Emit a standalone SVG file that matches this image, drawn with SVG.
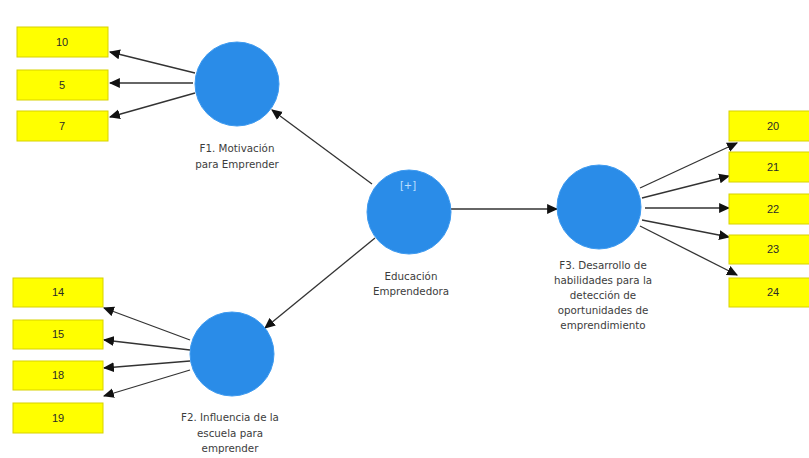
<svg xmlns="http://www.w3.org/2000/svg" width="809" height="458" viewBox="0 0 809 458">
<style>
.box{fill:#ffff00;stroke:#d8d200;stroke-width:1}
.bt{font-family:"Liberation Sans",Arial,sans-serif;font-size:11px;fill:#2a2a2a;text-anchor:middle}
.lv{fill:#2a8ce8;stroke:#3d9af0;stroke-width:1}
.lb{font-family:"DejaVu Sans","Liberation Sans",sans-serif;font-size:10.3px;fill:#3c3c3c;text-anchor:middle}
.c{stroke:#333;stroke-width:1.3;fill:none;marker-end:url(#ah)}
</style>
<defs>
<marker id="ah" markerUnits="userSpaceOnUse" markerWidth="11" markerHeight="11" viewBox="0 0 10 10" refX="9" refY="5" orient="auto">
<path d="M0,0.5 L10,5 L0,9.5 Z" fill="#111"/>
</marker>
</defs>
<rect width="809" height="458" fill="#fff"/>
<g id="connectors">
<line class="c" x1="195" y1="73" x2="110" y2="52"/>
<line class="c" x1="193" y1="83" x2="110" y2="83"/>
<line class="c" x1="195" y1="93" x2="110" y2="117"/>
<line class="c" x1="190" y1="340" x2="104" y2="308"/>
<line class="c" x1="190" y1="350" x2="104" y2="340"/>
<line class="c" x1="190" y1="361" x2="104" y2="368"/>
<line class="c" x1="190" y1="370" x2="104" y2="396"/>
<line class="c" x1="372" y1="184" x2="272" y2="110"/>
<line class="c" x1="375" y1="238" x2="265" y2="328"/>
<line class="c" x1="451" y1="209" x2="557" y2="209"/>
<line class="c" x1="640" y1="188" x2="737" y2="143"/>
<line class="c" x1="642" y1="198" x2="729" y2="176"/>
<line class="c" x1="645" y1="208" x2="729" y2="208"/>
<line class="c" x1="642" y1="220" x2="729" y2="237"/>
<line class="c" x1="640" y1="226" x2="737" y2="275"/>
</g>
<g id="n10"><rect class="box" x="17" y="27" width="91" height="30"/><text class="bt" x="62" y="46">10</text></g>
<g id="n5"><rect class="box" x="17" y="70" width="91" height="30"/><text class="bt" x="62" y="89">5</text></g>
<g id="n7"><rect class="box" x="17" y="111" width="91" height="30"/><text class="bt" x="62" y="130">7</text></g>
<g id="n14"><rect class="box" x="13" y="278" width="90" height="29"/><text class="bt" x="58" y="296">14</text></g>
<g id="n15"><rect class="box" x="13" y="320" width="90" height="29"/><text class="bt" x="58" y="338">15</text></g>
<g id="n18"><rect class="box" x="13" y="361" width="90" height="29"/><text class="bt" x="58" y="379">18</text></g>
<g id="n19"><rect class="box" x="13" y="403" width="90" height="30"/><text class="bt" x="58" y="422">19</text></g>
<g id="n20"><rect class="box" x="729" y="111" width="82" height="30"/><text class="bt" x="773" y="130">20</text></g>
<g id="n21"><rect class="box" x="729" y="152" width="82" height="30"/><text class="bt" x="773" y="171">21</text></g>
<g id="n22"><rect class="box" x="729" y="194" width="82" height="30"/><text class="bt" x="773" y="213">22</text></g>
<g id="n23"><rect class="box" x="729" y="235" width="82" height="29"/><text class="bt" x="773" y="253">23</text></g>
<g id="n24"><rect class="box" x="729" y="278" width="82" height="29"/><text class="bt" x="773" y="296">24</text></g>
<g id="F1"><circle class="lv" cx="237" cy="84" r="42"/>
<text class="lb" x="237" y="152">F1. Motivación</text><text class="lb" x="237" y="168">para Emprender</text></g>
<g id="F2"><circle class="lv" cx="232" cy="354" r="42"/>
<text class="lb" x="230" y="421">F2. Influencia de la</text><text class="lb" x="230" y="437">escuela para</text><text class="lb" x="230" y="452">emprender</text></g>
<g id="EE"><circle class="lv" cx="409" cy="212" r="42"/>
<text x="408" y="189" font-family="DejaVu Sans, sans-serif" font-size="10" fill="#bfe0ff" text-anchor="middle">[+]</text>
<text class="lb" x="411" y="280">Educación</text><text class="lb" x="411" y="295">Emprendedora</text></g>
<g id="F3"><circle class="lv" cx="599" cy="207" r="42"/>
<text class="lb" x="603" y="269">F3. Desarrollo de</text><text class="lb" x="603" y="284">habilidades para la</text><text class="lb" x="603" y="299">detección de</text><text class="lb" x="603" y="314">oportunidades de</text><text class="lb" x="603" y="329">emprendimiento</text></g>
</svg>
